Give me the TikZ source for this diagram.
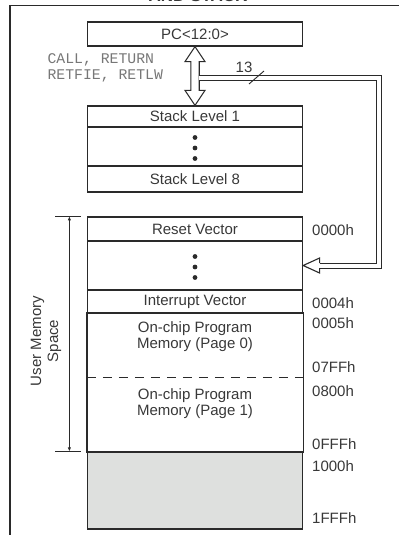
\documentclass[tikz,border=0pt]{standalone}
\usepackage{fontspec}
\setmainfont{Liberation Sans}
\setmonofont{Liberation Mono}
\usetikzlibrary{calc, arrows.meta}
\definecolor{lineGrey}{HTML}{2A2A2A}
\definecolor{textGrey}{HTML}{383838}
\definecolor{opGrey}{HTML}{777777}
\definecolor{fillGrey}{HTML}{DEE0DE}

\tikzset{
  row/.style={draw=lineGrey, line width=1.25pt, minimum width=215pt, inner sep=0pt,
    text=textGrey, font=\fontsize{15}{16}\selectfont},
  addr/.style={anchor=west, inner sep=0pt, text=textGrey, font=\fontsize{15}{16}\selectfont},
  pipe/.style={draw=lineGrey, line width=1.1pt, fill=white},
  bus/.style={draw=lineGrey, line width=1pt, double=white, double distance=4pt},
}

\begin{document}
\begin{tikzpicture}[x=1pt, y=-1pt]
		\useasboundingbox (0,0) rectangle (399,535);
		%%%%%%%%%%%%%
		\node[anchor=base, text=textGrey, font=\bfseries\fontsize{17}{18}\selectfont] (title) at (198,1.8) {AND STACK};
		\coordinate (fbl) at (10,535); \coordinate (ftl) at (10,5.5); \coordinate (ftr) at (399,5.5);
		\draw[lineGrey, line width=1.25pt] (fbl) -- (ftl) -- (ftr);
		%%%%%%%%%%%%%
		\node[row, minimum height=24pt] (pc) at (195,34) {PC<12:0>};
		\node[row, minimum height=21pt] (sl1) at (195,116.5) {Stack Level 1};
		\node[row, minimum height=39pt] (sdots) at (195,146.5) {};
		\node[row, minimum height=26pt] (sl8) at (195,179) {Stack Level 8};
		%%%%%%%%%%%%%
		\node[row, minimum height=24pt] (reset) at (195,229) {Reset Vector};
		\node[row, minimum height=49pt] (rdots) at (195,265.5) {};
		\node[row, minimum height=23pt] (intv) at (195,301.5) {Interrupt Vector};
		\node[row, draw=none, minimum height=64pt] (page0) at (195,345) {};
		\node[row, draw=none, minimum height=75pt] (page1) at (195,414.5) {};
		\node[row, fill=fillGrey, minimum height=77pt] (unimpl) at (195,490.5) {};
		\draw[lineGrey, line width=1.25pt] (page0.north west) -- (page1.south west);
		\draw[lineGrey, line width=1.25pt] (page0.north east) -- (page1.south east);
		\draw[lineGrey, line width=1.1pt, dash pattern=on 9pt off 7pt] (page0.south west) -- (page0.south east);
		\node[row, draw=none, align=center] (p0text) at (195,337) {On-chip Program\\Memory (Page 0)};
		\node[row, draw=none, align=center] (p1text) at (195,403.5) {On-chip Program\\Memory (Page 1)};
		\foreach \n in {sdots, rdots}
			\foreach \dy in {-9,1.5,12}
				\fill[lineGrey] ($(\n.center)+(0,\dy)$) circle (2.4pt);
		%%%%%%%%%%%%%
		\node[addr] (a0000) at (312,230) {0000h};
		\node[addr] (a0004) at (312,303) {0004h};
		\node[addr] (a0005) at (312,323) {0005h};
		\node[addr] (a07ff) at (312,367) {07FFh};
		\node[addr] (a0800) at (312,391) {0800h};
		\node[addr] (a0fff) at (312,444) {0FFFh};
		\node[addr] (a1000) at (312,466) {1000h};
		\node[addr] (a1fff) at (312,518) {1FFFh};
		%%%%%%%%%%%%%
		\node[anchor=west, align=left, text=opGrey, font=\ttfamily\fontsize{14.8}{16}\selectfont] (ops) at (44,68) {CALL, RETURN\\RETFIE, RETLW};
		\draw[pipe] (pc.south) -- ++(10,15) -- ++(-5.8,0) -- ($(sl1.north)+(4.2,-15)$) -- ++(5.8,0)
			-- (sl1.north) -- ++(-10,-15) -- ++(5.8,0) -- ($(pc.south)+(-4.2,15)$) -- ++(-5.8,0) -- cycle;
		\coordinate (busin) at (198.6,78.2);
		\coordinate (busback) at ($(rdots.east)+(16.5,0)$);
		\draw[bus] (busin) -- (379.2,78.2) |- (busback);
		\draw[pipe] ($(busback)+(0,-2.5)$) -- ++(0,-5) -- (rdots.east) -- ($(busback)+(0,7.5)$) -- ++(0,-5);
		\draw[lineGrey, line width=0.9pt] (249,84) to (264,71);
		\node[text=textGrey, font=\fontsize{15}{16}\selectfont] (width) at (244,67.5) {13};
		%%%%%%%%%%%%%
		\draw[lineGrey, line width=1.1pt] ($(reset.north west)+(-31.5,0)$) to ($(reset.north west)+(-5.5,0)$);
		\draw[lineGrey, line width=1.1pt] ($(unimpl.north west)+(-31.5,0)$) to ($(unimpl.north west)+(-5.5,0)$);
		\draw[lineGrey, line width=1.1pt, {Latex[length=4pt,width=3.5pt]}-{Latex[length=4pt,width=3.5pt]}]
			($(reset.north west)+(-17.5,0)$) to ($(unimpl.north west)+(-17.5,0)$);
		\node[rotate=90, align=center, text=textGrey, font=\fontsize{15}{17}\selectfont] (ums) at (46,341) {User Memory\\Space};
\end{tikzpicture}
\end{document}
